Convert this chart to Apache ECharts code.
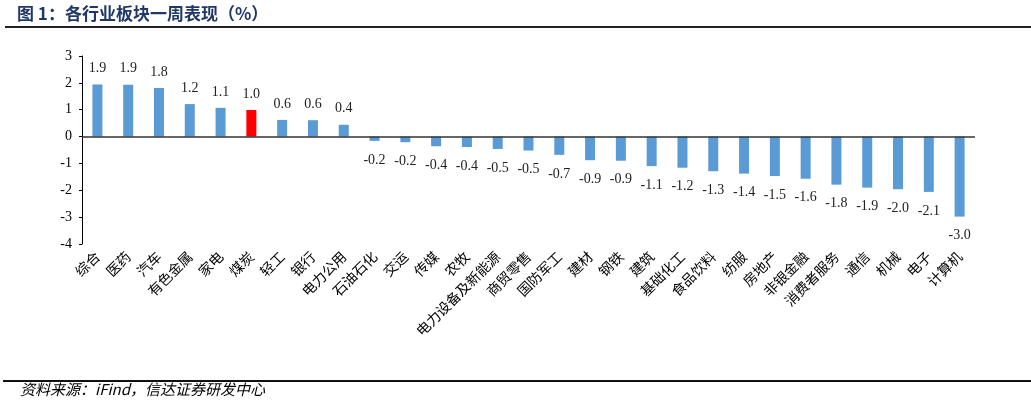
<!DOCTYPE html>
<html>
<head>
<meta charset="utf-8">
<script src="https://cdn.jsdelivr.net/npm/echarts@6/dist/echarts.min.js"></script>
<style>
html,body{margin:0;padding:0;background:#fff;}
#c{width:1031px;height:406px;}
</style>
</head>
<body>
<div id="c"></div>
<script>
var categories = ['综合','医药','汽车','有色金属','家电','煤炭','轻工','银行','电力公用','石油石化','交运','传媒','农牧','电力设备及新能源','商贸零售','国防军工','建材','钢铁','建筑','基础化工','食品饮料','纺服','房地产','非银金融','消费者服务','通信','机械','电子','计算机'];
var values = [1.94,1.93,1.81,1.21,1.07,0.99,0.62,0.61,0.44,-0.16,-0.21,-0.36,-0.39,-0.46,-0.52,-0.68,-0.88,-0.90,-1.10,-1.16,-1.29,-1.38,-1.47,-1.57,-1.79,-1.90,-1.96,-2.06,-2.98];
var highlight = '煤炭';
var yTicks = [-4,-3,-2,-1,0,1,2,3];

var chart = echarts.init(document.getElementById('c'));
var data = values.map(function(v,i){
  return {
    value: v,
    itemStyle: {color: categories[i] === highlight ? '#ff0000' : '#5b9bd5'},
    label: {position: v >= 0 ? 'top' : 'bottom', distance: v >= 0 ? 9 : 12}
  };
});
chart.setOption({
  animation: false,
  grid: {left: 82, top: 56, right: 56, bottom: 162, containLabel: false},
  xAxis: {
    type: 'category',
    data: categories,
    position: 'bottom',
    axisLine: {show: false, onZero: false},
    axisTick: {show: false},
    axisLabel: {
      rotate: 45, margin: 10, interval: 0,
      fontFamily: 'Noto Sans CJK SC', fontSize: 14, color: '#000'
    }
  },
  yAxis: {
    type: 'value',
    min: yTicks[0], max: yTicks[yTicks.length-1], interval: 1,
    splitLine: {show: false},
    axisLine: {show: true, lineStyle: {color: '#000', width: 1}},
    axisTick: {show: true, length: 3, lineStyle: {color: '#000'}},
    axisLabel: {fontFamily: 'Liberation Serif', fontSize: 14, color: '#000', margin: 10}
  },
  series: [{
    type: 'bar',
    data: data,
    barWidth: 10,
    label: {
      show: true,
      fontFamily: 'Liberation Serif', fontSize: 14, color: '#222',
      formatter: function(p){ return p.value.toFixed(1); }
    },
    markLine: {
      silent: true, symbol: 'none', label: {show: false},
      lineStyle: {color: '#333', width: 1.5, type: 'solid'},
      data: [{yAxis: 0}]
    }
  }],
  graphic: [
    {type: 'text', left: 17, top: 5, style: {text: '图 1：各行业板块一周表现（%）', font: 'bold 17px "Noto Sans CJK SC"', fill: '#1f3864'}},
    {type: 'line', shape: {x1: 5, y1: 27, x2: 1031, y2: 27}, style: {stroke: '#222', lineWidth: 2}},
    {type: 'line', shape: {x1: 3, y1: 381, x2: 1031, y2: 381}, style: {stroke: '#111', lineWidth: 2}},
    {type: 'text', left: 20, top: 382, style: {text: '资料来源：iFind，信达证券研发中心', font: 'italic 15px "Noto Sans CJK SC"', fill: '#000'}}
  ]
});
</script>
</body>
</html>
